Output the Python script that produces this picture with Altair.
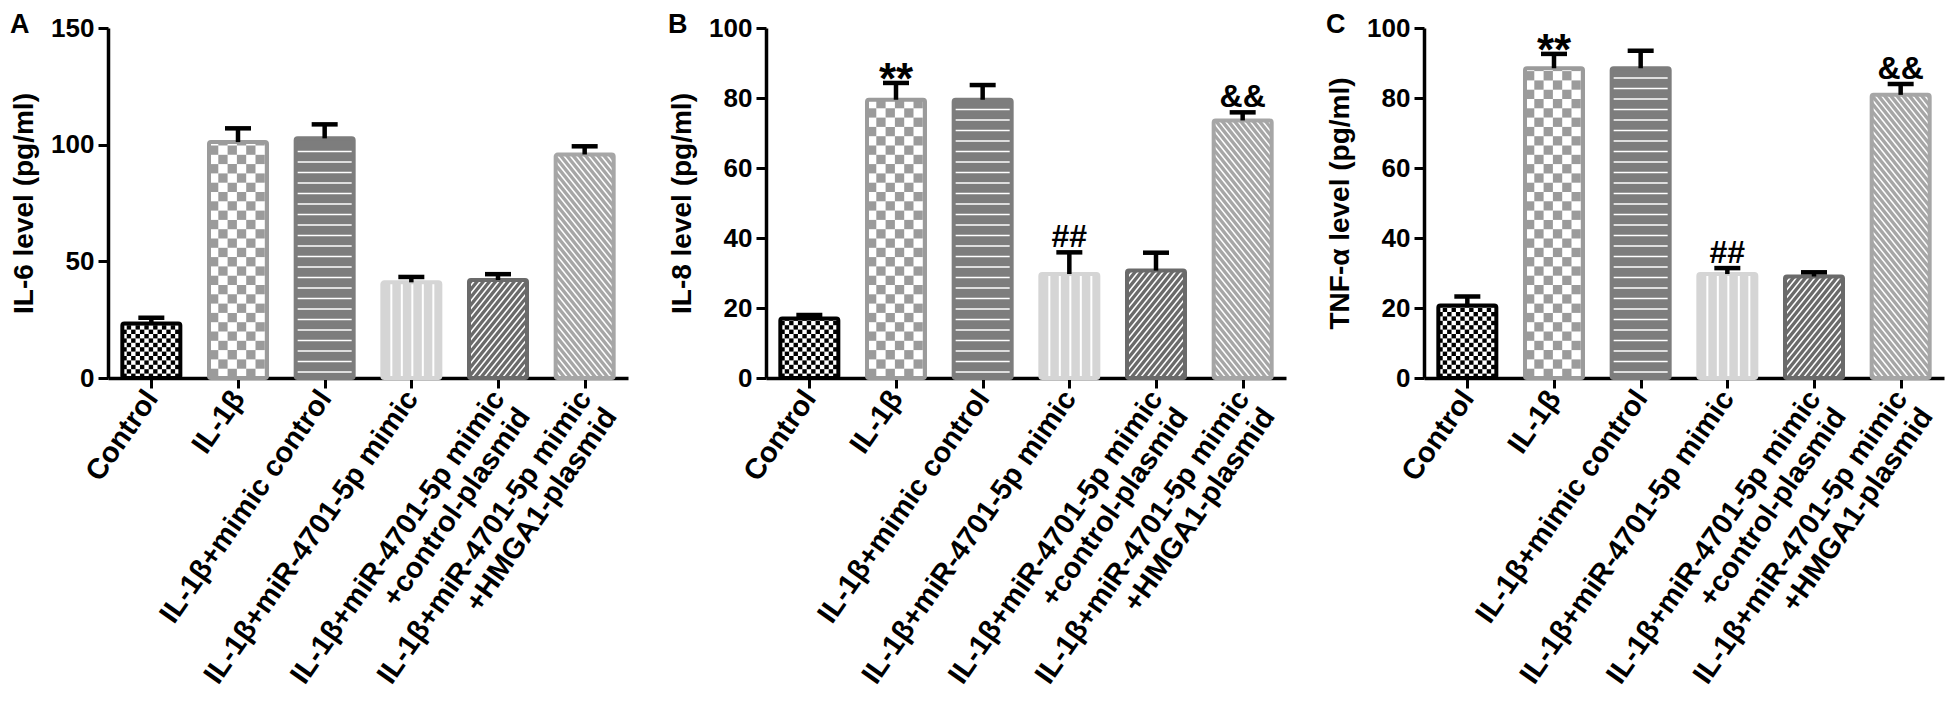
import json
import numpy as np
import pandas as pd
import altair as alt

# ---------------- data ----------------
categories = [
    "Control",
    "IL-1β",
    "IL-1β+mimic control",
    "IL-1β+miR-4701-5p mimic",
    "IL-1β+miR-4701-5p mimic\n+control-plasmid",
    "IL-1β+miR-4701-5p mimic\n+HMGA1-plasmid",
]

il6_mean = [23.4, 101.1, 102.7, 41.0, 42.0, 95.8]
il6_err = [2.4, 5.9, 6.0, 2.3, 2.5, 3.5]
il6_sig = ["", "", "", "", "", ""]

il8_mean = [17.0, 79.5, 79.5, 29.7, 30.7, 73.6]
il8_err = [1.0, 4.8, 4.2, 6.2, 5.1, 2.3]
il8_sig = ["", "**", "", "##", "", "&&"]

tnf_mean = [20.7, 88.5, 88.5, 29.7, 29.0, 80.9]
tnf_err = [2.6, 4.1, 5.0, 1.7, 1.2, 3.1]
tnf_sig = ["", "**", "", "##", "", "&&"]

panel_letters = ["A", "B", "C"]
y_titles = ["IL-6 level (pg/ml)", "IL-8 level (pg/ml)", "TNF-α level (pg/ml)"]
y_max = [150, 100, 100]
y_ticks = [[0, 50, 100, 150], [0, 20, 40, 60, 80, 100], [0, 20, 40, 60, 80, 100]]

# ---------------- styles ----------------
FONT = "Liberation Sans"
W, H = 520, 350
STEP = W / 6.0
HALF = 29.0 / STEP  # half bar width in x-data units

bar_styles = [
    dict(base="#ffffff", edge="#000000", kind="checker", ink="#000000", size=4.4, sw=0),
    dict(base="#ffffff", edge="#9b9b9b", kind="checker", ink="#9b9b9b", size=9.3, sw=0),
    dict(base="#7d7d7d", edge="#7d7d7d", kind="hlines", ink="#ffffff", size=10.5, sw=1.6),
    dict(base="#d5d5d5", edge="#d5d5d5", kind="vlines", ink="#ffffff", size=10.5, sw=2.0),
    dict(base="#6a6a6a", edge="#6a6a6a", kind="fwd", ink="#ffffff", size=6.2, sw=1.5),
    dict(base="#a6a6a6", edge="#a6a6a6", kind="back", ink="#ffffff", size=6.2, sw=1.5),
]

label_lines = []
for c in categories:
    parts = c.split("\n")
    if len(parts) == 1:
        label_lines.append(parts[0])
    else:
        label_lines.append([parts[0], parts[1] + "\u00a0" * 7])
label_expr = json.dumps(label_lines, ensure_ascii=False) + "[datum.value]"


def pattern_rows(i, top, st, ppx, ppy):
    x0 = i - HALF
    w = 2 * HALF * ppx
    h = top * ppy
    s = st["size"]
    rects, lines = [], []

    def px(u):
        return x0 + u / ppx

    def py(v):
        return v / ppy

    if st["kind"] == "checker":
        ncol = int(np.ceil(w / s))
        nrow = int(np.ceil(h / s))
        for r in range(nrow):
            for c in range(ncol):
                if (r + c) % 2 == 0:
                    rects.append(dict(x=px(c * s), x2=px(min(w, (c + 1) * s)),
                                      y=py(r * s), y2=py(min(h, (r + 1) * s)),
                                      color=st["ink"]))
    elif st["kind"] == "hlines":
        v = 6.0
        while v < h - 3:
            lines.append(dict(x=px(0), x2=px(w), y=py(v), y2=py(v), color=st["ink"], sw=st["sw"]))
            v += s
    elif st["kind"] == "vlines":
        u = 9.0
        while u < w - 3:
            lines.append(dict(x=px(u), x2=px(u), y=py(0), y2=py(h), color=st["ink"], sw=st["sw"]))
            u += s
    else:
        k = 1.25
        if st["kind"] == "fwd":
            c = -h / k
            while c < w:
                ua, ub = max(0.0, c), min(w, c + h / k)
                if ub > ua:
                    lines.append(dict(x=px(ua), x2=px(ub), y=py(k * (ua - c)), y2=py(k * (ub - c)),
                                      color=st["ink"], sw=st["sw"]))
                c += s
        else:
            c = 0.0
            while c < w + h / k:
                ua, ub = max(0.0, c - h / k), min(w, c)
                if ub > ua:
                    lines.append(dict(x=px(ua), x2=px(ub), y=py(k * (c - ua)), y2=py(k * (c - ub)),
                                      color=st["ink"], sw=st["sw"]))
                c += s
    return rects, lines


def make_panel(means, errs, sigs, ymax, yticks, ytitle, letter):
    ppx = STEP
    ppy = H / ymax
    bars = pd.DataFrame({
        "i": list(range(6)),
        "mean": means,
        "upper": [m + e for m, e in zip(means, errs)],
        "x": [i - HALF for i in range(6)],
        "x2": [i + HALF for i in range(6)],
        "y": [0] * 6,
        "base": [s["base"] for s in bar_styles],
        "edge": [s["edge"] for s in bar_styles],
        "sig": sigs,
    })
    rects, lines = [], []
    for i, m in enumerate(means):
        r, l = pattern_rows(i, m, bar_styles[i], ppx, ppy)
        rects += r
        lines += l
    cells = pd.DataFrame(rects)
    hatch = pd.DataFrame(lines)

    xscale = alt.Scale(domain=[-0.5, 5.5], nice=False, zero=False)
    yscale = alt.Scale(domain=[0, ymax], nice=False, zero=True)
    xaxis = alt.Axis(values=list(range(6)), labelExpr=label_expr, labelAngle=-55,
                     labelFontSize=29, labelFont=FONT, labelFontWeight="bold",
                     labelColor="black", labelPadding=5, labelOverlap=False,
                     labelFlush=False, labelLineHeight=31, labelLimit=1000,
                     domainColor="black", domainWidth=3.5, tickColor="black",
                     tickWidth=3, tickSize=10, grid=False, title=None)
    yaxis = alt.Axis(values=yticks, labelFontSize=26, labelFont=FONT,
                     labelFontWeight="bold", labelColor="black", labelPadding=4,
                     domainColor="black", domainWidth=3.5, tickColor="black",
                     tickWidth=3, tickSize=10, grid=False, title=ytitle,
                     titleFontSize=28, titleFont=FONT, titleFontWeight="bold",
                     titleColor="black", titlePadding=12)

    def X(f):
        return alt.X(f, type="quantitative", scale=xscale, axis=xaxis)

    def Y(f):
        return alt.Y(f, type="quantitative", scale=yscale, axis=yaxis)

    bar_fill = alt.Chart(bars).mark_rect(cornerRadius=2).encode(
        x=X("x"), x2="x2", y=Y("y"), y2="mean", fill=alt.Fill("base:N", scale=None))
    cell_layer = alt.Chart(cells).mark_rect().encode(
        x=X("x"), x2="x2", y=Y("y"), y2="y2", fill=alt.Fill("color:N", scale=None))
    hatch_layer = alt.Chart(hatch).mark_rule().encode(
        x=X("x"), x2="x2", y=Y("y"), y2="y2",
        color=alt.Color("color:N", scale=None),
        strokeWidth=alt.StrokeWidth("sw:Q", scale=None))
    bar_edge = alt.Chart(bars).mark_rect(filled=False, strokeWidth=4, cornerRadius=2).encode(
        x=X("x"), x2="x2", y=Y("y"), y2="mean", stroke=alt.Stroke("edge:N", scale=None))
    stem = alt.Chart(bars).mark_rule(strokeWidth=4.5, color="black").encode(
        x=X("i"), y=Y("mean"), y2="upper")
    cap = alt.Chart(bars).mark_tick(orient="horizontal", size=26, thickness=4.5,
                                    color="black", opacity=1).encode(
        x=X("i"), y=Y("upper"))
    layers = [bar_fill, cell_layer, hatch_layer, bar_edge, stem, cap]
    if any(s == "**" for s in sigs):
        layers.append(alt.Chart(bars).transform_filter(alt.datum.sig == "**").mark_text(
            font=FONT, fontSize=44, fontWeight="bold", color="black",
            baseline="alphabetic", dy=11).encode(x=X("i"), y=Y("upper"), text="sig:N"))
    if any(s not in ("", "**") for s in sigs):
        layers.append(alt.Chart(bars).transform_filter(
            (alt.datum.sig != "") & (alt.datum.sig != "**")).mark_text(
            font=FONT, fontSize=32, fontWeight="bold", color="black",
            baseline="alphabetic", dy=-5).encode(x=X("i"), y=Y("upper"), text="sig:N"))

    return alt.layer(*layers).properties(
        width=W, height=H,
        title=alt.TitleParams(text=letter, anchor="start", frame="group", dx=-98, dy=24,
                              fontSize=27, fontWeight="bold", font=FONT, color="black",
                              offset=0))


pA = make_panel(il6_mean, il6_err, il6_sig, y_max[0], y_ticks[0], y_titles[0], panel_letters[0])
pB = make_panel(il8_mean, il8_err, il8_sig, y_max[1], y_ticks[1], y_titles[1], panel_letters[1])
pC = make_panel(tnf_mean, tnf_err, tnf_sig, y_max[2], y_ticks[2], y_titles[2], panel_letters[2])

chart = alt.hconcat(pA, pB, pC, spacing=40).properties(
    padding={"left": 2, "top": 3, "right": 2, "bottom": 2}
).configure_view(strokeWidth=0)

chart.save("out.html", embed_options={"renderer": "svg", "actions": False})
